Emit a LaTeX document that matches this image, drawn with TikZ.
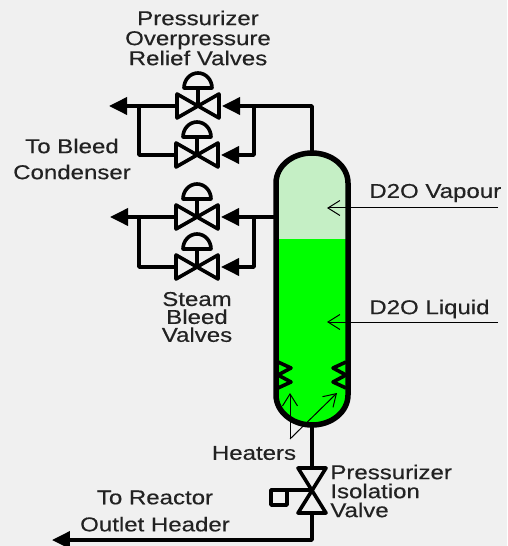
\documentclass[tikz,border=0pt]{standalone}
\usepackage{fontspec}
\setmainfont[FakeStretch=1.2,FakeBold=0.4]{Liberation Sans}
\usetikzlibrary{arrows.meta,calc}
\definecolor{fondoG}{HTML}{F0F0F0}
\definecolor{vaporC}{HTML}{C5EFC5}
\definecolor{liquidoC}{HTML}{00FF00}
\definecolor{textoG}{HTML}{222222}
\tikzset{
  pipe/.style={line width=0.72mm,line join=round},
  wall/.style={line width=1.1mm},
  thinline/.style={line width=0.2mm},
  lbl/.style={font=\fontsize{11.4}{11.4}\selectfont,text=textoG,inner sep=0pt,align=center},
  flowtip/.style={-{Triangle[length=3.6mm,width=3.4mm]}},
  opentip/.style={-{Straight Barb[length=2.4mm,width=3mm]}}
}
\begin{document}
\begin{tikzpicture}[x=0.02cm,y=-0.02cm]
  \useasboundingbox (0,0) rectangle (507,546);
  \fill[fondoG] (0,0) rectangle (507,546);
  % vessel
  \coordinate (topV) at (312,153);
  \coordinate (botV) at (312,425);
  \fill[vaporC] (276,240) -- (276,183) arc[start angle=180,end angle=360,x radius=36,y radius=30] -- (348,240) -- cycle;
  \fill[liquidoC] (276,239) rectangle (348,395);
  \fill[liquidoC] (276,395) arc[start angle=180,end angle=0,x radius=36,y radius=30] -- cycle;
  % heaters
  \draw[pipe] (278,362) -- (291,368) -- (278,375) -- (291,382) -- (278,388);
  \draw[pipe] (346,362) -- (333,368) -- (346,375) -- (333,382) -- (346,388);
  \draw[wall] (276,395) -- (276,183) arc[start angle=180,end angle=360,x radius=36,y radius=30]
    -- (348,395) arc[start angle=0,end angle=180,x radius=36,y radius=30] -- cycle;
  % bleed and relief valves
  \foreach \vname/\vx/\vy in {reliefA/198/106,reliefB/197/155,bleedA/197/217,bleedB/197/267} {
    \coordinate (\vname) at (\vx,\vy);
    \draw[pipe] (\vname) ++(-21,-12) -- ++(0,24) -- ++(42,-24) -- ++(0,24) -- cycle;
    \draw[pipe] (\vname) -- ++(0,-18);
    \draw[pipe] (\vname) ++(-14,-18) -- ++(28,0) arc[start angle=0,end angle=-180,x radius=14,y radius=15] -- cycle;
  }
  \coordinate (tipA) at (109,106);
  \coordinate (tipB) at (110,217);
  \coordinate (joinLA) at (139,106);
  \coordinate (joinRA) at (254,106);
  \coordinate (joinLB) at (139,217);
  \coordinate (joinRB) at (254,217);
  \coordinate (elbowA) at (312,106);
  \coordinate (wallB) at (274,217);
  \coordinate (inA) at (222,106);
  \coordinate (inB) at (221,155);
  \coordinate (inC) at (221,217);
  \coordinate (inD) at (221,267);
  \draw[pipe,flowtip] (reliefA) ++(-21,0) -- (tipA);
  \draw[pipe,flowtip] (bleedA) ++(-21,0) -- (tipB);
  \draw[pipe] (joinLA) |- ($(reliefB)+(-21,0)$);
  \draw[pipe] (joinLB) |- ($(bleedB)+(-21,0)$);
  \draw[pipe] (topV) -- (elbowA) -- (joinRA);
  \draw[pipe,flowtip] (joinRA) -- (inA);
  \draw[pipe] (joinRA) |- (250,155);
  \draw[pipe,flowtip] (250,155) -- (inB);
  \draw[pipe] (wallB) -- (joinRB);
  \draw[pipe,flowtip] (joinRB) -- (inC);
  \draw[pipe] (joinRB) |- (250,267);
  \draw[pipe,flowtip] (250,267) -- (inD);
  % isolation valve
  \coordinate (isoV) at (312,490);
  \coordinate (isoTop) at (312,468);
  \coordinate (isoBot) at (312,513);
  \coordinate (isoEnd) at (312,540);
  \coordinate (tipC) at (52,540);
  \coordinate (isoBox) at (287,490);
  \draw[pipe] (298,468) -- (326,468) -- (298,513) -- (326,513) -- cycle;
  \draw[pipe] (botV) -- (isoTop);
  \draw[pipe] (isoV) -- (isoBox);
  \draw[pipe] (271,490) rectangle (287,505);
  \draw[pipe,flowtip] (isoBot) -- (isoEnd) -- (tipC);
  % thin arrows
  \coordinate (heatFoot) at (290,439);
  \coordinate (heatL) at (290,393);
  \coordinate (heatR) at (337,393);
  \coordinate (vapEnd) at (498,208);
  \coordinate (vapTip) at (327,208);
  \coordinate (liqEnd) at (498,322);
  \coordinate (liqTip) at (327,322);
  \draw[thinline,opentip] (heatFoot) -- (heatL);
  \draw[thinline,opentip] (heatFoot) -- (heatR);
  \draw[thinline,opentip] (vapEnd) -- (vapTip);
  \draw[thinline,opentip] (liqEnd) -- (liqTip);
  % labels
  \node[lbl] (reliefLbl) at (198,38) {Pressurizer\\Overpressure\\Relief Valves};
  \node[lbl,font=\fontsize{11.4}{14.8}\selectfont] (condLbl) at (72,159) {To Bleed\\Condenser};
  \node[lbl,font=\fontsize{11.4}{10.2}\selectfont] (steamLbl) at (197,317) {Steam\\Bleed\\Valves};
  \node[lbl,anchor=west] (vapLbl) at (369,193) {D2O Vapour};
  \node[lbl,anchor=west] (liqLbl) at (369,309) {D2O Liquid};
  \node[lbl] (heatLbl) at (254,453) {Heaters};
  \node[lbl,align=left,anchor=west,font=\fontsize{11.4}{10.8}\selectfont] (isoLbl) at (330,491) {Pressurizer\\Isolation\\Valve};
  \node[lbl,font=\fontsize{11.4}{15.4}\selectfont] (headLbl) at (155,511) {To Reactor\\Outlet Header};
\end{tikzpicture}
\end{document}
